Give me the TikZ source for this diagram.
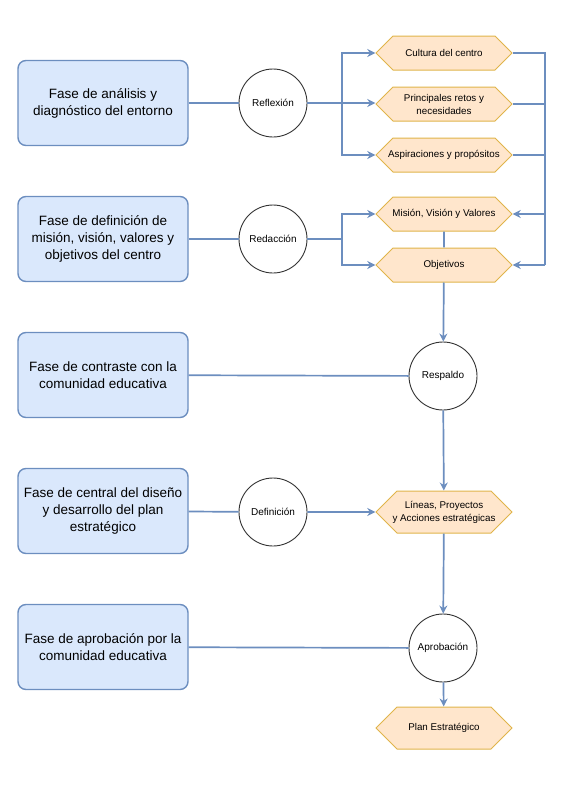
\documentclass[tikz,border=0pt]{standalone}
\usepackage{fontspec}
\setmainfont{Liberation Sans}
\usetikzlibrary{arrows.meta,shapes.symbols}
\definecolor{faseazul}{HTML}{DAE8FC}
\definecolor{bordeazul}{HTML}{6C8EBF}
\definecolor{hexnaranja}{HTML}{FFE6CC}
\definecolor{bordenaranja}{HTML}{E0B44A}

\begin{document}
\begin{tikzpicture}[x=1pt, y=-1pt,
    fase/.style={draw=bordeazul, fill=faseazul, line width=1.4pt, rounded corners=8pt,
        minimum width=170pt, minimum height=85pt, align=center,
        font=\fontsize{13.5}{17}\selectfont},
    paso/.style={circle, draw=black!80, fill=white, line width=0.9pt, minimum size=68pt,
        inner sep=0pt, font=\fontsize{10}{12}\selectfont},
    hexa/.style={signal, signal to=west and east, signal pointer angle=90,
        draw=bordenaranja, fill=hexnaranja, line width=1pt, minimum width=136pt,
        minimum height=34pt, inner xsep=-9pt, inner ysep=1pt, align=center,
        font=\fontsize{9.8}{13}\selectfont},
    linea/.style={draw=bordeazul, line width=1.7pt},
    flecha/.style={linea, -{Stealth[length=8pt,width=8pt]}}]

            \useasboundingbox (0,0) rectangle (575,790);

            % fases (columna izquierda)
            \node[fase] (f1) at (103,103) {Fase de análisis y\\diagnóstico del entorno};
            \node[fase] (f2) at (103,239) {Fase de definición de\\misión, visión, valores y\\objetivos del centro};
            \node[fase] (f3) at (103,375) {Fase de contraste con la\\comunidad educativa};
            \node[fase] (f4) at (103,511) {Fase de central del diseño\\y desarrollo del plan\\estratégico};
            \node[fase] (f5) at (103,647) {Fase de aprobación por la\\comunidad educativa};

            % pasos
            \node[paso] (reflexion) at (273,103) {Reflexión};
            \node[paso] (redaccion) at (273,239) {Redacción};
            \node[paso] (respaldo) at (443,376) {Respaldo};
            \node[paso] (definicion) at (273,512) {Definición};
            \node[paso] (aprobacion) at (443,648) {Aprobación};

            % resultados
            \node[hexa] (cultura) at (444,53) {Cultura del centro};
            \node[hexa] (retos) at (444,104) {Principales retos y\\necesidades};
            \node[hexa] (aspiraciones) at (444,155) {Aspiraciones y propósitos};
            \node[hexa] (mision) at (444,214) {Misión, Visión y Valores};
            \node[hexa] (objetivos) at (444,265) {Objetivos};
            \node[hexa, minimum height=42pt] (lineas) at (444,512) {Líneas, Proyectos\\y Acciones estratégicas};
            \node[hexa, minimum height=42pt] (plan) at (444,728) {Plan Estratégico};

            \coordinate (reparto1) at (342,103);
            \coordinate (reparto2) at (342,239);
            \coordinate (colector) at (545,0);

            % conexiones
            \draw[linea] (f1) -- (reflexion);
            \draw[linea] (reflexion) -- (reparto1);
            \draw[flecha] (reparto1) |- (cultura);
            \draw[flecha] (reparto1) -- (retos.west |- reparto1);
            \draw[flecha] (reparto1) |- (aspiraciones);

            \draw[linea] (cultura.east) -| (colector |- objetivos.east);
            \draw[linea] (retos.east) -- (colector |- retos.east);
            \draw[linea] (aspiraciones.east) -- (colector |- aspiraciones.east);
            \draw[flecha] (colector |- mision.east) -- (mision.east);
            \draw[flecha] (colector |- objetivos.east) -- (objetivos.east);

            \draw[linea] (f2) -- (redaccion);
            \draw[linea] (redaccion) -- (reparto2);
            \draw[flecha] (reparto2) |- (mision);
            \draw[flecha] (reparto2) |- (objetivos);

            \draw[linea] (mision) -- (objetivos);
            \draw[flecha] (objetivos) -- (respaldo);
            \draw[linea] (f3) -- (respaldo);
            \draw[flecha] (respaldo) -- (lineas);

            \draw[linea] (f4) -- (definicion);
            \draw[flecha] (definicion) -- (lineas);
            \draw[flecha] (lineas) -- (aprobacion);
            \draw[linea] (f5) -- (aprobacion);
            \draw[flecha] (aprobacion) -- (plan);

        \end{tikzpicture}
\end{document}
